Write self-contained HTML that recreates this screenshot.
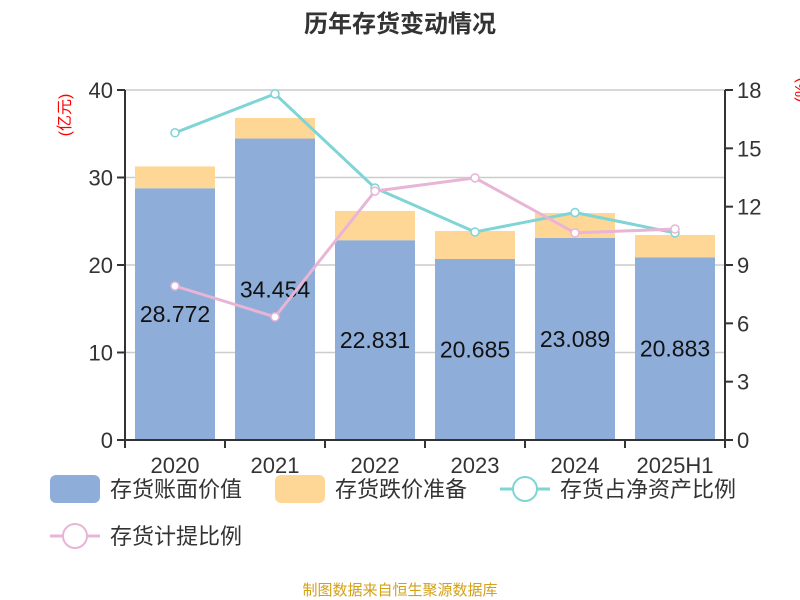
<!DOCTYPE html>
<html><head><meta charset="utf-8"><style>
body{margin:0;background:#fff;}
svg{display:block;font-family:"Liberation Sans","Noto Sans CJK SC",sans-serif;}
</style></head><body>
<svg id="chart" width="800" height="600">
<text x="400" y="32" text-anchor="middle" font-size="24" font-weight="bold" fill="#333">历年存货变动情况</text>
<text transform="translate(70,115) rotate(-90)" text-anchor="middle" font-size="16" fill="#f00">(亿元)</text>
<text transform="translate(806,90) rotate(-90)" text-anchor="middle" font-size="16" fill="#f00">(%)</text>
<g id="grid"></g><g id="bars"></g><g id="lines"></g><g id="axes"></g>
<text x="400" y="595" text-anchor="middle" font-size="15" fill="#d4a017">制图数据来自恒生聚源数据库</text>
</svg>
<script>
const categories=["2020","2021","2022","2023","2024","2025H1"];
const bookValue=[28.772,34.454,22.831,20.685,23.089,20.883];
const reserve=[2.5,2.35,3.35,3.2,2.85,2.55];
const netAssetRatio=[15.8,17.8,12.96,10.7,11.7,10.65];
const provisionRatio=[7.92,6.33,12.8,13.48,10.65,10.85];
const leftTicks=[0,10,20,30,40];
const rightTicks=[0,3,6,9,12,15,18];
const NS="http://www.w3.org/2000/svg";
const L=125,R=725,T=90,B=440;
const yL=v=>B-(v/40)*(B-T);
const yR=v=>B-(v/18)*(B-T);
const band=(R-L)/categories.length;
const xC=i=>L+band*(i+0.5);
function mk(tag,attrs,parent,text){const e=document.createElementNS(NS,tag);for(const k in attrs)e.setAttribute(k,attrs[k]);if(text!=null)e.textContent=text;document.getElementById(parent).appendChild(e);return e;}
leftTicks.forEach(v=>{if(v>0){const g=mk('line',{x1:L,x2:R,y1:yL(v),y2:yL(v),stroke:'#ccc','stroke-width':1.5},'grid');}
const t=mk('text',{x:L-12,y:yL(v)+8,'text-anchor':'end','font-size':22,fill:'#333'},'axes',v);
mk('line',{x1:L-8,x2:L,y1:yL(v),y2:yL(v),stroke:'#333','stroke-width':2},'axes');});
rightTicks.forEach(v=>{const t=mk('text',{x:R+12,y:yR(v)+8,'font-size':22,fill:'#333'},'axes',v);
mk('line',{x1:R,x2:R+8,y1:yR(v),y2:yR(v),stroke:'#333','stroke-width':2},'axes');});
mk('line',{x1:L,x2:L,y1:T,y2:B,stroke:'#333','stroke-width':2},'axes');
mk('line',{x1:R,x2:R,y1:T,y2:B,stroke:'#333','stroke-width':2},'axes');
mk('line',{x1:L,x2:R,y1:B,y2:B,stroke:'#333','stroke-width':2},'axes');
categories.forEach((c,i)=>{mk('line',{x1:L+band*i,x2:L+band*i,y1:B,y2:B+8,stroke:'#333','stroke-width':2},'axes');
const t=mk('text',{x:xC(i),y:B+33,'text-anchor':'middle','font-size':22,fill:'#333'},'axes',c);
const b=mk('rect',{x:xC(i)-40,y:yL(bookValue[i]),width:80,height:B-yL(bookValue[i]),fill:'#8eadd9'},'bars');
const r=mk('rect',{x:xC(i)-40,y:yL(bookValue[i]+reserve[i]),width:80,height:yL(bookValue[i])-yL(bookValue[i]+reserve[i]),fill:'#fed797'},'bars');
const l=mk('text',{x:xC(i),y:(yL(bookValue[i])+B)/2+8,'text-anchor':'middle','font-size':23,fill:'#111'},'lines',bookValue[i].toFixed(3));});
mk('line',{x1:R,x2:R,y1:B,y2:B+8,stroke:'#333','stroke-width':2},'axes');
function series(vals,color,name){const pts=vals.map((v,i)=>xC(i)+','+yR(v)).join(' ');
const p=mk('polyline',{points:pts,fill:'none',stroke:color,'stroke-width':3},'lines');
vals.forEach((v,i)=>{const c=mk('circle',{cx:xC(i),cy:yR(v),r:4,fill:'#fff',stroke:color,'stroke-width':1.5},'lines');});}
series(netAssetRatio,'#7fd4d6','net-asset-ratio');
series(provisionRatio,'#e8b5d6','provision-ratio');
// legend
function legend(x,y,type,color,label){if(type==='rect'){const r=mk('rect',{x:x,y:y-14,width:50,height:28,rx:6,fill:color},'axes');}
else{mk('line',{x1:x,x2:x+50,y1:y,y2:y,stroke:color,'stroke-width':3},'axes');const c=mk('circle',{cx:x+25,cy:y,r:12,fill:'#fff',stroke:color,'stroke-width':2},'axes');}
const t=mk('text',{x:x+60,y:y+8,'font-size':22,fill:'#333'},'axes',label);}
legend(50,489,'rect','#8eadd9','存货账面价值');
legend(275,489,'rect','#fed797','存货跌价准备');
legend(500,489,'line','#7fd4d6','存货占净资产比例');
legend(50,536,'line','#e8b5d6','存货计提比例');
</script>
</body></html>
